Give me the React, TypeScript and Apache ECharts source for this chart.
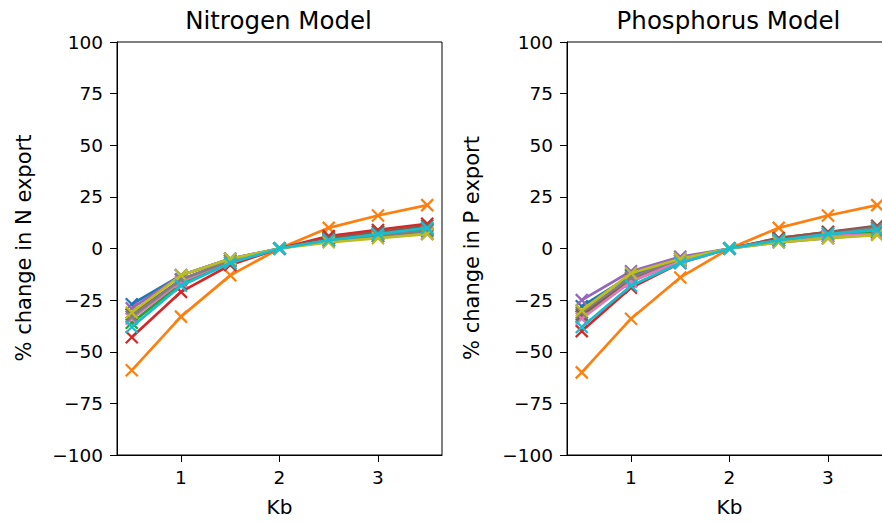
import React, { useEffect, useRef } from "react";
import * as echarts from "echarts";

const kb = [0.5, 1.0, 1.5, 2.0, 2.5, 3.0, 3.5];
const xTicks = [1, 2, 3];
const colors = ["#1f77b4", "#ff7f0e", "#2ca02c", "#d62728", "#9467bd", "#8c564b", "#e377c2", "#7f7f7f", "#bcbd22", "#17becf"];

const nBlue = [-27, -13, -5, 0, 4, 7, 9];
const nOrange = [-59, -33, -13, 0, 10, 16, 21];
const nGreen = [-36, -17, -7, 0, 5, 8, 9.5];
const nRed = [-43, -21, -8, 0, 6, 9, 12];
const nPurple = [-29, -13, -5, 0, 4, 6, 7];
const nBrown = [-32, -15, -6, 0, 5, 8, 11];
const nPink = [-34, -16, -6, 0, 4, 6, 7.5];
const nGray = [-33, -15, -6, 0, 4, 6, 8.5];
const nOlive = [-31, -13, -5, 0, 3, 5, 7];
const nCyan = [-38, -18, -7, 0, 4, 7, 10];

const pBlue = [-28, -13, -5, 0, 4, 6, 8];
const pOrange = [-60, -34, -14, 0, 10, 16, 21];
const pGreen = [-33, -16, -6, 0, 4, 6, 8];
const pRed = [-40, -19, -7, 0, 5, 8, 10];
const pPurple = [-25, -11, -4, 0, 3, 5, 7];
const pBrown = [-32, -15, -6, 0, 5, 8, 11];
const pPink = [-34, -16, -6, 0, 4, 6, 7];
const pGray = [-31, -14, -5, 0, 4, 7, 10];
const pOlive = [-30, -12, -5, 0, 3, 5, 6.5];
const pCyan = [-38, -18, -7, 0, 4, 7, 9];

const nSeries = [nBlue, nOrange, nGreen, nRed, nPurple, nBrown, nPink, nGray, nOlive, nCyan];
const pSeries = [pBlue, pOrange, pGreen, pRed, pPurple, pBrown, pPink, pGray, pOlive, pCyan];

const titles = ["Nitrogen Model", "Phosphorus Model"];
const yLabels = ["% change in N export", "% change in P export"];
const xLabel = "Kb";

const FONT = "DejaVu Sans";
const XMARK = "path://M0,0L10,10M10,0L0,10";

export default function App() {
  const ref = useRef<HTMLDivElement>(null);
  useEffect(() => {
    document.body.style.margin = "0";
    if (!ref.current) return;
    const chart = echarts.init(ref.current, null, { renderer: "svg" });
    const grids = [
      { left: 117, top: 42, width: 325, height: 413 },
      { left: 567, top: 42, width: 325, height: 413 },
    ];
    const mkX = (i: number) => ({
      type: "value",
      gridIndex: i,
      min: 0.35,
      max: 3.65,
      axisLine: { show: true, onZero: false, lineStyle: { color: "#000", width: 1 } },
      axisTick: { show: true, customValues: xTicks, length: 7, lineStyle: { color: "#000", width: 1 } },
      axisLabel: { customValues: xTicks, color: "#000", fontSize: 18.5, fontFamily: FONT, margin: 13 },
      splitLine: { show: false },
    });
    const mkY = (i: number) => ({
      type: "value",
      gridIndex: i,
      min: -100,
      max: 100,
      interval: 25,
      axisLine: { show: true, onZero: false, lineStyle: { color: "#000", width: 1 } },
      axisTick: { show: true, length: 7, lineStyle: { color: "#000", width: 1 } },
      axisLabel: {
        color: "#000",
        fontSize: 18.5,
        fontFamily: FONT,
        margin: 14,
        formatter: (v: number) => (v < 0 ? "\u2212" + Math.abs(v) : String(v)),
      },
      splitLine: { show: false },
    });
    const series: any[] = [];
    [nSeries, pSeries].forEach((set, gi) => {
      set.forEach((vals, si) => {
        series.push({
          type: "line",
          xAxisIndex: gi,
          yAxisIndex: gi,
          data: kb.map((x, k) => [x, vals[k]]),
          symbol: XMARK,
          symbolSize: 12,
          showSymbol: true,
          lineStyle: { color: colors[si], width: 2.7 },
          itemStyle: { color: colors[si], borderColor: colors[si], borderWidth: 2.2 },
          z: 2 + si,
        });
      });
    });
    const graphic: any[] = [];
    const centers = [279.5, 729.5];
    const ylx = [24, 472];
    centers.forEach((cx, i) => {
      graphic.push({
        type: "text",
        x: cx - 1,
        y: 20,
        style: { text: titles[i], font: `24.5px "${FONT}"`, fill: "#000", align: "center", verticalAlign: "middle" },
      });
      graphic.push({
        type: "text",
        x: cx,
        y: 507,
        style: { text: xLabel, font: `20px "${FONT}"`, fill: "#000", align: "center", verticalAlign: "middle" },
      });
      graphic.push({
        type: "text",
        x: ylx[i],
        y: 248,
        rotation: Math.PI / 2,
        style: { text: yLabels[i], font: `21px "${FONT}"`, fill: "#000", align: "center", verticalAlign: "middle" },
      });
    });
    chart.setOption({
      animation: false,
      backgroundColor: "#fff",
      grid: grids.map((g) => ({
        ...g,
        show: true,
        borderColor: "#000",
        borderWidth: 1,
        backgroundColor: "transparent",
        containLabel: false,
        outerBoundsMode: "none",
      })),
      xAxis: [mkX(0), mkX(1)],
      yAxis: [mkY(0), mkY(1)],
      series,
      graphic,
    });
    return () => chart.dispose();
  }, []);
  return <div ref={ref} style={{ width: 882, height: 523 }} />;
}
